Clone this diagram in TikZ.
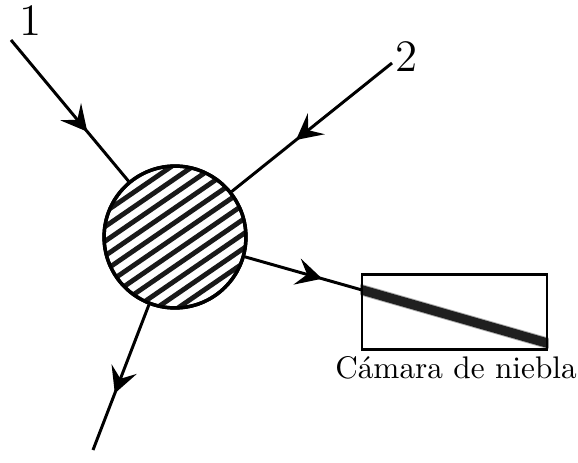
\documentclass[tikz,border=0pt]{standalone}
\usetikzlibrary{arrows.meta,decorations.markings}
\begin{document}
\begin{tikzpicture}[x=0.32pt,y=-0.32pt,
  ray/.style={line width=0.95pt},
  midarrow/.style={postaction={decorate},decoration={markings,
     mark=at position #1 with {\arrow{Stealth[length=8.3pt,width=8.6pt,inset=3.3pt]}}}},
  hatch/.style={line width=1.55pt, black!90}]
\useasboundingbox (0,0) rectangle (578,462);
% interaction region
\node[circle, draw, line width=1.1pt, minimum size=45.4pt, inner sep=0pt] (c) at (175,237) {};
\begin{scope}
  \clip (175,237) circle (71);
  \foreach \i in {-8,...,8}
    \draw[hatch] ({175+\i*6.7-70},{237+\i*10+48}) -- ++(140,-96);
\end{scope}
\node[circle, draw, line width=1.1pt, minimum size=45.4pt, inner sep=0pt] at (c.center) {};
% end points
\coordinate (p1) at (11,40);
\coordinate (p2) at (392,63);
\coordinate (p4) at (93,450);
\coordinate (ent) at (362,290);
\coordinate (tend) at (547,343);
% cloud chamber
\node[draw, line width=0.95pt, minimum width=59.2pt, minimum height=24.3pt, inner sep=0pt] (box) at (454.5,312) {};
\begin{scope}
  \clip (box.south west) rectangle (box.north east);
  \draw[black!45, line width=3.6pt, opacity=.7, shorten <=-6pt, shorten >=-6pt] (ent) -- (tend);
  \draw[black!88, line width=3pt, shorten <=-6pt, shorten >=-6pt] (ent) -- (tend);
\end{scope}
\node[draw, line width=0.95pt, minimum width=59.2pt, minimum height=24.3pt, inner sep=0pt] at (box.center) {};
% rays
\draw[ray, midarrow=0.65] (p1) -- (c);
\draw[ray, midarrow=0.6] (p2) -- (c);
\draw[ray, midarrow=0.66] (c) -- (ent);
\draw[ray, midarrow=0.61] (c) -- (p4);
% labels
\node[font=\Large, inner sep=0pt] (l1) at (31,21) {1};
\node[font=\Large, inner sep=0pt] (l2) at (407,57) {2};
\node[anchor=base, inner sep=0pt] (lab) at (456,378) {Cámara de niebla};
\end{tikzpicture}
\end{document}
